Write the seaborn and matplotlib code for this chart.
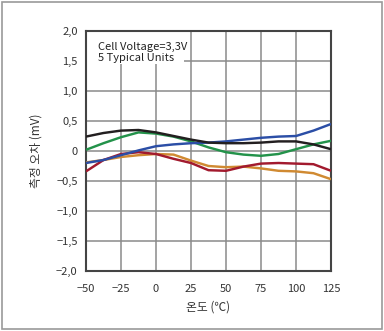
import matplotlib
matplotlib.use("Agg")
import matplotlib.pyplot as plt
import matplotlib.patches as mpatches
from matplotlib.ticker import FixedLocator, FixedFormatter
import seaborn as sns
import pandas as pd

# Temperature sweep (°C) and measured error (mV) of five typical units
temps = [-50, -37.5, -25, -12.5, 0, 12.5, 25, 37.5, 50, 62.5, 75, 87.5, 100, 112.5, 125]
unit_black = [0.24, 0.30, 0.34, 0.35, 0.31, 0.25, 0.19, 0.14, 0.13, 0.13, 0.14, 0.16, 0.16, 0.11, 0.03]
unit_green = [0.02, 0.13, 0.23, 0.31, 0.29, 0.24, 0.16, 0.06, -0.02, -0.06, -0.08, -0.05, 0.03, 0.11, 0.17]
unit_blue = [-0.20, -0.15, -0.07, 0.01, 0.08, 0.11, 0.13, 0.14, 0.16, 0.19, 0.22, 0.24, 0.25, 0.34, 0.45]
unit_red = [-0.34, -0.15, -0.05, -0.02, -0.05, -0.13, -0.20, -0.32, -0.33, -0.26, -0.21, -0.20, -0.21, -0.22, -0.33]
unit_orange = [-0.19, -0.15, -0.10, -0.07, -0.05, -0.06, -0.16, -0.25, -0.27, -0.26, -0.29, -0.33, -0.34, -0.37, -0.47]

x_ticks = [-50, -25, 0, 25, 50, 75, 100, 125]
x_labels = ["\u221250", "\u221225", "0", "25", "50", "75", "100", "125"]
y_ticks = [-2.0, -1.5, -1.0, -0.5, 0, 0.5, 1.0, 1.5, 2.0]
y_labels = ["\u22122,0", "\u22121,5", "\u22121,0", "\u22120,5", "0", "0,5", "1,0", "1,5", "2,0"]

units = {
    "A": unit_orange,
    "B": unit_red,
    "C": unit_green,
    "D": unit_blue,
    "E": unit_black,
}
palette = {
    "A": "#d08a32",
    "B": "#a21a2e",
    "C": "#23924a",
    "D": "#2b4ea6",
    "E": "#231f20",
}

rows = []
for name, vals in units.items():
    for t, v in zip(temps, vals):
        rows.append({"temp": t, "err": v, "unit": name})
df = pd.DataFrame(rows)

sns.set_style("white")
plt.rcParams["font.family"] = ["Noto Sans CJK KR", "DejaVu Sans"]

fig = plt.figure(figsize=(3.84, 3.31), dpi=100)
ax = fig.add_axes([86 / 384, 60 / 331, 245 / 384, 240 / 331])

sns.lineplot(data=df, x="temp", y="err", hue="unit", palette=palette,
             linewidth=1.75, legend=False, ax=ax, zorder=3)
for ln in ax.get_lines():
    ln.set_solid_joinstyle("round")
    ln.set_solid_capstyle("butt")

ax.set_xlim(-50, 125)
ax.set_ylim(-2.0, 2.0)
ax.xaxis.set_major_locator(FixedLocator(x_ticks))
ax.xaxis.set_major_formatter(FixedFormatter(x_labels))
ax.yaxis.set_major_locator(FixedLocator(y_ticks))
ax.yaxis.set_major_formatter(FixedFormatter(y_labels))
ax.tick_params(axis="both", length=0, labelsize=8, labelcolor="#333333")
ax.tick_params(axis="x", pad=9)
ax.tick_params(axis="y", pad=6)

ax.grid(True, color="#8a8a8a", linewidth=1.1, zorder=1)
ax.set_axisbelow(True)
for sp in ax.spines.values():
    sp.set_color("#444444")
    sp.set_linewidth(1.5)

# White panel behind the annotation
ax.add_patch(mpatches.Rectangle((0, 0.8625), 0.4, 0.1375, transform=ax.transAxes,
                                facecolor="white", edgecolor="none", zorder=2))
ax.text(0.05, 0.955, "Cell Voltage=3,3V\n5 Typical Units", transform=ax.transAxes,
        fontsize=8, color="#222222", va="top", ha="left", linespacing=1.2, zorder=4)

ax.set_xlabel("온도 (\u2103)", fontsize=8.5, color="#333333", labelpad=5)
ax.set_ylabel("측정 오차 (mV)", fontsize=8.5, color="#333333", labelpad=10)

# Outer frame of the figure
fig.patches.append(mpatches.Rectangle((2 / 384, 2 / 331), 380 / 384, 327 / 331,
                                      transform=fig.transFigure, fill=False,
                                      edgecolor="#9a9a9a", linewidth=1.2))

fig.savefig("out.png", dpi=100)
